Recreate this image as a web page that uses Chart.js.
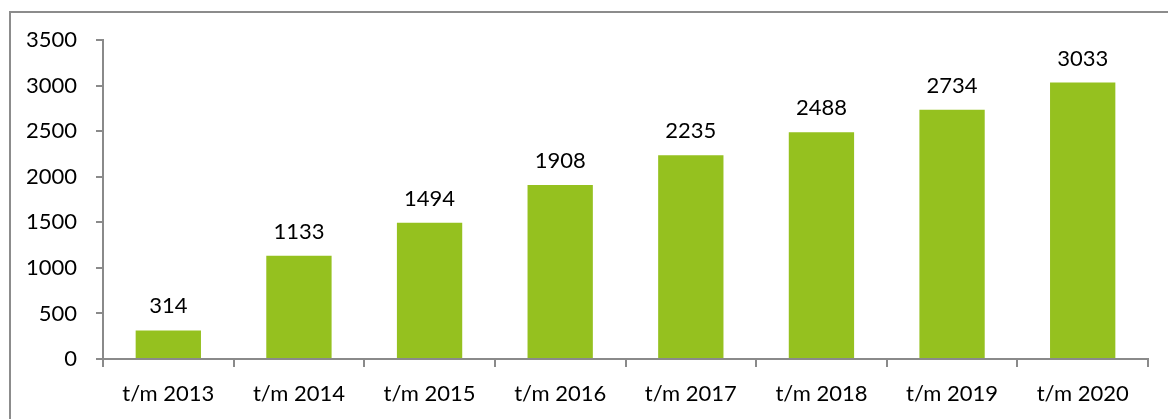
<!DOCTYPE html>
<html>
<head>
<meta charset="utf-8">
<script src="https://cdn.jsdelivr.net/npm/chart.js@4/dist/chart.umd.min.js"></script>
<style>
  html, body { margin: 0; padding: 0; background: #fff; }
  #wrap { position: relative; width: 1168px; height: 419px; overflow: hidden; }
  #frame { position: absolute; left: 9px; top: 11px; width: 1200px; height: 500px;
           border-left: 2px solid #8c8c8c; border-top: 2px solid #8c8c8c; box-sizing: border-box; }
  canvas { position: absolute; left: 0; top: 0; }
</style>
</head>
<body>
<div id="wrap">
  <div id="frame"></div>
  <canvas id="c" width="1168" height="419"></canvas>
</div>
<script>
const categories = ["t/m 2013", "t/m 2014", "t/m 2015", "t/m 2016", "t/m 2017", "t/m 2018", "t/m 2019", "t/m 2020"];
const values = [314, 1133, 1494, 1908, 2235, 2488, 2734, 3033];
const yTicks = [0, 500, 1000, 1500, 2000, 2500, 3000, 3500];

const FONT = "Lato";
const barColor = "#95C11F";
const axisColor = "#8a8a8a";
const textColor = "#000";

const dataLabels = {
  id: "dataLabels",
  afterDatasetsDraw(chart) {
    const ctx = chart.ctx;
    const meta = chart.getDatasetMeta(0);
    ctx.save();
    ctx.font = "22px " + FONT;
    ctx.fillStyle = textColor;
    ctx.textAlign = "center";
    ctx.textBaseline = "alphabetic";
    meta.data.forEach((bar, i) => {
      ctx.fillText(String(values[i]), bar.x, bar.y - 17);
    });
    ctx.restore();
  }
};

new Chart(document.getElementById("c"), {
  type: "bar",
  data: {
    labels: categories,
    datasets: [{
      data: values,
      backgroundColor: barColor,
      borderWidth: 0,
      categoryPercentage: 1,
      barPercentage: 0.5
    }]
  },
  options: {
    responsive: false,
    animation: false,
    devicePixelRatio: 1,
    layout: { padding: { top: 40, right: 20, left: 0, bottom: 0 } },
    plugins: { legend: { display: false }, tooltip: { enabled: false } },
    scales: {
      x: {
        offset: true,
        grid: { display: true, drawOnChartArea: false, offset: true, tickLength: 8, color: axisColor, lineWidth: 2 },
        border: { display: true, color: axisColor, width: 2 },
        ticks: { font: { family: FONT, size: 22 }, color: textColor, padding: 14, maxRotation: 0, autoSkip: false },
        afterFit(scale) { scale.height = 60; }
      },
      y: {
        min: 0, max: 3500,
        afterBuildTicks(scale) { scale.ticks = yTicks.map(v => ({ value: v })); },
        grid: { display: true, drawOnChartArea: false, tickLength: 7, color: axisColor, lineWidth: 2 },
        border: { display: true, color: axisColor, width: 2 },
        ticks: { font: { family: FONT, size: 22 }, color: textColor, padding: 19, callback: v => String(v) },
        afterFit(scale) { scale.width = 103; }
      }
    }
  },
  plugins: [dataLabels]
});
</script>
</body>
</html>
